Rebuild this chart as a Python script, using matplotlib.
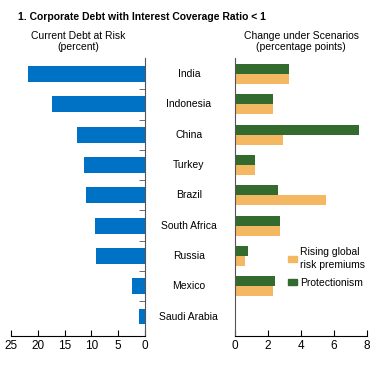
import matplotlib
matplotlib.use("Agg")
import matplotlib.pyplot as plt
from matplotlib.patches import Patch
from matplotlib.transforms import blended_transform_factory
import numpy as np

plt.rcParams["font.family"] = ["Liberation Sans Narrow", "Liberation Sans", "DejaVu Sans"]

countries = ["India", "Indonesia", "China", "Turkey", "Brazil",
             "South Africa", "Russia", "Mexico", "Saudi Arabia"]
current_risk = [21.9, 17.4, 12.7, 11.4, 11.0, 9.3, 9.2, 2.5, 1.2]
rising_premiums = [3.3, 2.3, 2.9, 1.2, 5.5, 2.7, 0.6, 2.3, 0.03]
protectionism = [3.3, 2.3, 7.5, 1.2, 2.6, 2.7, 0.8, 2.4, 0.05]

blue = "#0072C6"
green = "#336B2E"
orange = "#F5B862"
spine_col = "#555555"

fig = plt.figure(figsize=(3.82, 3.71), dpi=100)
y = np.arange(len(countries))

# left panel
ax1 = fig.add_axes([0.0288, 0.0943, 0.3508, 0.7494])
ax1.barh(y, current_risk, height=0.52, color=blue)
ax1.set_xlim(25, 0)
ax1.set_ylim(8.64, -0.53)
ax1.set_xticks([25, 20, 15, 10, 5, 0])
for s in ["left", "top"]:
    ax1.spines[s].set_visible(False)
ax1.spines["right"].set_color(spine_col)
ax1.yaxis.tick_right()
ax1.set_yticks([])
ax1.set_yticks(y[:-1] + 0.5, minor=True)
ax1.tick_params(axis="y", which="minor", direction="in", length=4, color=spine_col)
ax1.tick_params(axis="x", direction="in", length=4, labelsize=8.5, pad=3)

# right panel
ax2 = fig.add_axes([0.6152, 0.0943, 0.3455, 0.7494])
ax2.barh(y - 0.165, protectionism, height=0.33, color=green)
ax2.barh(y + 0.165, rising_premiums, height=0.33, color=orange)
ax2.set_xlim(0, 8)
ax2.set_ylim(8.64, -0.53)
ax2.set_xticks([0, 2, 4, 6, 8])
ax2.set_yticks([])
for s in ["right", "top"]:
    ax2.spines[s].set_visible(False)
ax2.spines["left"].set_color(spine_col)
ax2.tick_params(axis="x", direction="in", length=4, labelsize=8.5, pad=3)

# country names between panels
tr = blended_transform_factory(ax2.transAxes, ax2.transData)
for yi, name in zip(y, countries):
    ax2.text(-0.35, yi, name, transform=tr, ha="center", va="center", fontsize=7.5)

handles = [Patch(color=orange), Patch(color=green)]
leg = ax2.legend(handles, ["Rising global\nrisk premiums", "Protectionism"],
                 loc="upper left", bbox_to_anchor=(0.345, 0.345), frameon=False,
                 fontsize=7.5, handlelength=0.9, handleheight=0.55,
                 handletextpad=0.3, labelspacing=0.75, borderpad=0.2)
for t in leg.get_texts():
    t.set_linespacing(1.3)

fig.text(0.047, 0.955, "1. Corporate Debt with Interest Coverage Ratio < 1",
         fontsize=7.5, fontweight="bold", va="center", ha="left")
fig.text(0.204, 0.888, "Current Debt at Risk\n(percent)", fontsize=7.5,
         ha="center", va="center", linespacing=1.2)
fig.text(0.788, 0.888, "Change under Scenarios\n(percentage points)", fontsize=7.5,
         ha="center", va="center", linespacing=1.2)

fig.savefig("out.png", dpi=100)
